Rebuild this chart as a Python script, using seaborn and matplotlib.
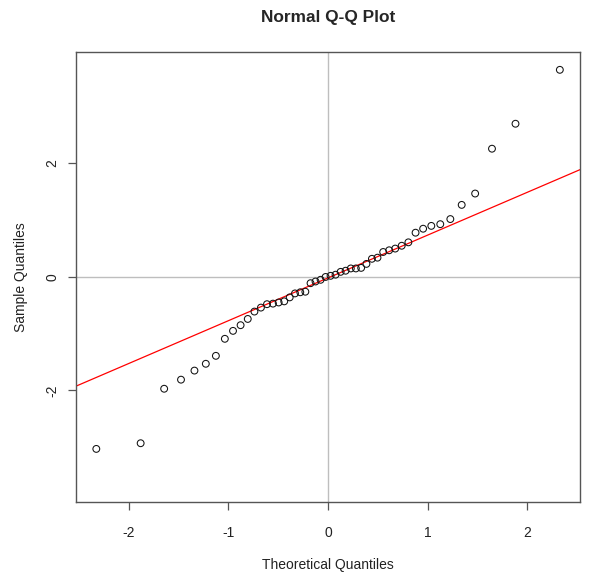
import numpy as np
import pandas as pd
import matplotlib
matplotlib.use("Agg")
import matplotlib.pyplot as plt
import seaborn as sns

# theoretical quantiles (x), n = 50
theoretical = [-2.326, -1.881, -1.645, -1.476, -1.341, -1.227, -1.126, -1.036, -0.954, -0.878,
               -0.806, -0.739, -0.674, -0.613, -0.553, -0.496, -0.440, -0.385, -0.332, -0.279,
               -0.228, -0.176, -0.126, -0.075, -0.025, 0.025, 0.075, 0.126, 0.176, 0.228,
               0.279, 0.332, 0.385, 0.440, 0.496, 0.553, 0.613, 0.674, 0.739, 0.806,
               0.878, 0.954, 1.036, 1.126, 1.227, 1.341, 1.476, 1.645, 1.881, 2.326]

# sample quantiles (y)
sample = [-3.03, -2.93, -1.97, -1.81, -1.65, -1.53, -1.39, -1.09, -0.95, -0.85,
          -0.74, -0.61, -0.54, -0.48, -0.47, -0.45, -0.43, -0.36, -0.29, -0.27,
          -0.26, -0.11, -0.08, -0.05, 0.00, 0.02, 0.04, 0.09, 0.11, 0.15,
          0.15, 0.16, 0.23, 0.32, 0.34, 0.44, 0.47, 0.50, 0.55, 0.61,
          0.78, 0.85, 0.90, 0.93, 1.02, 1.27, 1.47, 2.26, 2.70, 3.65]

x_ticks = [-2, -1, 0, 1, 2]
y_ticks = [-2, 0, 2]

df = pd.DataFrame({"theoretical": theoretical, "sample": sample})

sns.set_theme(style="white")
plt.rcParams["font.family"] = ["Liberation Sans", "DejaVu Sans"]

fig = plt.figure(figsize=(5.89, 5.74), dpi=100)
ax = fig.add_axes([0.129, 0.126, 0.856, 0.783])

# reference lines at zero (like abline(h=0, v=0, col="gray"))
ax.axhline(0, color="#BEBEBE", lw=1, zorder=1)
ax.axvline(0, color="#BEBEBE", lw=1, zorder=1)

sns.scatterplot(data=df, x="theoretical", y="sample", ax=ax, s=24,
                facecolors="none", edgecolor="#111111", linewidth=0.75, zorder=3)

# qqline through the quartiles
y_q = np.quantile(df["sample"], [0.25, 0.75])
x_q = np.array([-0.6745, 0.6745])
slope = (y_q[1] - y_q[0]) / (x_q[1] - x_q[0])
intercept = y_q[0] - slope * x_q[0]
ax.axline((0, intercept), slope=slope, color="red", lw=0.9, zorder=2)

ax.set_xlim(-2.53, 2.53)
ax.set_ylim(-3.96, 3.96)
ax.set_xticks(x_ticks)
ax.set_yticks(y_ticks)
ax.set_xticklabels([str(t) for t in x_ticks])
ax.set_yticklabels([str(t) for t in y_ticks])

for s in ax.spines.values():
    s.set_color("#555555")
    s.set_linewidth(1.0)

ax.tick_params(axis="both", direction="out", length=5.8, width=0.9, color="#555555",
               labelsize=10, labelcolor="#222222", bottom=True, left=True)
ax.tick_params(axis="x", pad=12)
ax.tick_params(axis="y", pad=6, labelrotation=90)
plt.setp(ax.get_yticklabels(), va="center")

ax.set_xlabel("Theoretical Quantiles", fontsize=10, color="#222222", labelpad=13)
ax.set_ylabel("Sample Quantiles", fontsize=10, color="#222222", labelpad=13)
fig.suptitle("Normal Q-Q Plot", fontsize=12.4, fontweight="bold", y=0.982, x=0.557)

fig.savefig("out.png", dpi=100)
